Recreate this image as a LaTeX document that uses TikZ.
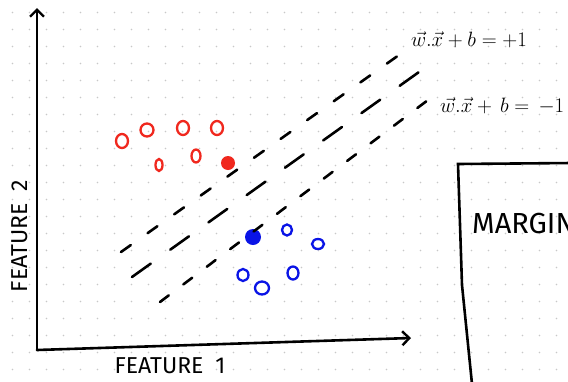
\documentclass[tikz,border=0pt]{standalone}
\usepackage{fontspec}
\setmainfont{Fira Sans}
\usetikzlibrary{shapes.geometric, arrows.meta}
\usetikzlibrary{positioning}
\definecolor{hred}{RGB}{240,40,30}
\definecolor{hblue}{RGB}{10,20,230}
\definecolor{griddot}{RGB}{200,200,200}
\tikzstyle{redpt} = [ellipse, draw=hred, line width=2.3pt, inner sep=0pt, minimum width=12pt, minimum height=14pt]
\tikzstyle{bluept} = [ellipse, draw=hblue, line width=2.3pt, inner sep=0pt, minimum width=11pt, minimum height=12pt]
\tikzstyle{support} = [circle, inner sep=0pt, minimum size=14pt]
\tikzstyle{axis} = [line width=2.6pt, line cap=round, -{Straight Barb[length=7pt,width=14pt,line width=2.4pt]}]
\tikzstyle{hyper} = [line width=2.6pt, line cap=round]
\tikzstyle{caption} = [inner sep=0pt, font=\fontsize{23}{25}\selectfont]
\tikzstyle{eqlabel} = [inner sep=0pt, font=\fontsize{20}{22}\selectfont]

\begin{document}
\begin{tikzpicture}[x=1pt, y=-1pt, node distance=34pt]
 \clip (0,0) rectangle (568,381);
 \fill [white] (0,0) rectangle (568,381);
 \foreach \i in {0,...,33}
  \foreach \j in {0,...,22}
   \fill [griddot] (12.5+17*\i, 12.5+17*\j) circle (0.8pt);

 \coordinate (origin) at (37,350);
 \coordinate (ytip) at (37,8);
 \coordinate (xtip) at (411,338);
 \draw [axis] (origin) -- (ytip);
 \draw [axis] (origin) -- (xtip);

 \node (feature1) [caption] at (170,366) {FEATURE\hspace{12pt}1};
 \node (feature2) [caption, rotate=90] at (20,236) {FEATURE\hspace{12pt}2};

 \node (red1) [redpt] at (122,141) {};
 \node (red2) [redpt, minimum width=13pt, minimum height=13pt] at (147,130) {};
 \node (red3) [redpt] at (183,128) {};
 \node (red4) [redpt, right of=red3] {};
 \node (red5) [redpt, minimum width=7pt, minimum height=12pt] at (159,165) {};
 \node (red6) [redpt, minimum width=9pt, minimum height=13pt] at (196,156) {};
 \node (redsv) [support, fill=hred] at (228,163) {};

 \node (bluesv) [support, fill=hblue, minimum size=16pt] at (253,237) {};
 \node (blue1) [bluept, minimum width=10pt, minimum height=11pt] at (287,230) {};
 \node (blue2) [bluept, minimum width=12pt, minimum height=10pt] at (318,244) {};
 \node (blue3) [bluept] at (243,275) {};
 \node (blue4) [bluept, minimum width=14pt, minimum height=13pt] at (262,288) {};
 \node (blue5) [bluept, minimum width=11pt, minimum height=13pt] at (293,273) {};

 \coordinate (plusStart) at (121,252);
 \coordinate (plusEnd) at (399,55);
 \coordinate (midStart) at (132,277);
 \coordinate (midEnd) at (419,72);
 \coordinate (minusStart) at (160,302);
 \coordinate (minusEnd) at (428,100);
 \draw [hyper, dash pattern=on 12pt off 20.6pt] (plusStart) -- (plusEnd);
 \draw [hyper, dash pattern=on 23pt off 24pt] (midStart) -- (midEnd);
 \draw [hyper, dash pattern=on 11pt off 18.3pt] (minusStart) -- (minusEnd);

 \node (plusLabel) [eqlabel] at (469,40) {$\vec{w}.\vec{x}+b=+1$};
 \node (minusLabel) [eqlabel, anchor=west] at (440,106) {$\vec{w}.\vec{x}+\,b=\,-1$};

 \coordinate (boxRight) at (572,163);
 \coordinate (boxCorner) at (458,164);
 \coordinate (boxMid) at (462,285);
 \coordinate (boxBottom) at (472,384);
 \draw [line width=2.6pt, line cap=round] (boxRight) -- (boxCorner) -- (boxMid) -- (boxBottom);
 \node (margin) [caption, anchor=west, font=\fontsize{29}{31}\selectfont] at (472,224) {MARGIN};
\end{tikzpicture}
\end{document}
